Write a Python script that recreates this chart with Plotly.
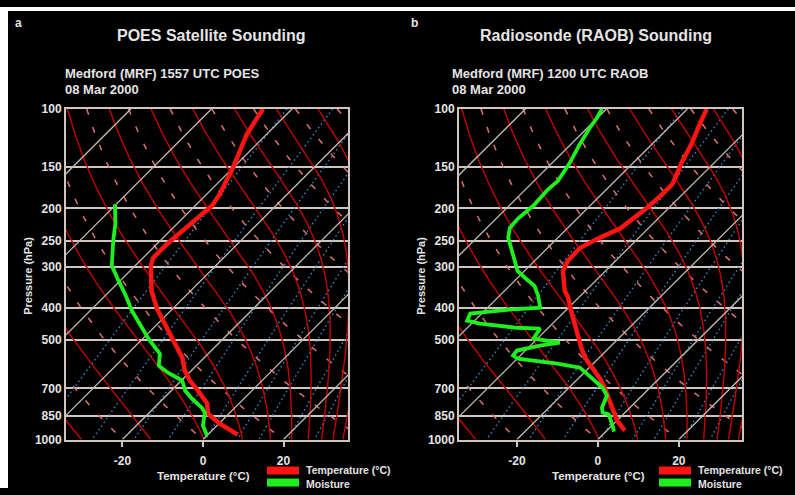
import numpy as np
import plotly.graph_objects as go

# ---------------- data ----------------
# Panel a: POES satellite sounding
poes_temp_p = [100, 119, 151, 181, 196, 229, 256, 282, 298, 355, 402, 437, 502, 565, 619, 663, 711, 778, 835, 895, 966]
poes_temp_t = [-67.2, -65.0, -60.0, -56.8, -55.8, -56.6, -57.5, -57.5, -56.1, -49.7, -43.9, -39.4, -32.0, -25.5, -21.6, -17.9, -13.4, -7.9, -5.2, 0.2, 7.4]
poes_moist_p = [194, 222, 250, 288, 298, 327, 360, 408, 452, 495, 527, 550, 598, 628, 663, 711, 752, 801, 829, 907, 972]
poes_moist_t = [-80.3, -75.4, -71.7, -67.0, -65.8, -61.0, -55.9, -49.6, -43.9, -38.6, -34.7, -32.0, -29.3, -25.3, -19.8, -16.6, -12.9, -8.2, -6.2, -3.5, 0.0]

# Panel b: radiosonde sounding
raob_temp_p = [100, 110, 128, 146, 159, 169, 181, 199, 215, 230, 245, 263, 288, 309, 355, 372, 416, 469, 538, 577, 610, 654, 697, 746, 806, 876, 939]
raob_temp_t = [-55.2, -53.4, -50.2, -48.0, -46.2, -45.0, -45.0, -45.4, -46.2, -46.9, -49.6, -52.0, -51.8, -50.5, -45.1, -42.6, -37.7, -32.2, -26.0, -22.3, -18.8, -14.6, -11.2, -7.9, -4.2, 0.0, 4.4]
raob_moist_p = [100, 106.5, 114, 128, 146, 157, 165, 177, 196, 215, 229, 245, 274, 309, 324, 343, 367, 399, 405, 416, 437, 446, 459, 462, 495, 509, 520, 538, 557, 569, 589, 606, 632, 677, 697, 736, 801, 829, 840, 914, 946]
raob_moist_t = [-81.1, -80.1, -79.4, -77.8, -75.6, -74.6, -74.1, -74.4, -74.0, -74.6, -74.3, -72.3, -67.1, -61.7, -58.2, -53.8, -50.5, -47.0, -54.7, -62.8, -61.8, -57.9, -47.8, -41.8, -41.0, -33.5, -37.6, -42.1, -41.8, -39.9, -28.9, -22.3, -19.1, -14.1, -11.7, -8.7, -6.9, -5.5, -3.5, 0.5, 2.0]

pressure_ticks = [100, 150, 200, 250, 300, 400, 500, 700, 850, 1000]
temp_ticks = [-20, 0, 20]
isotherm_values = list(range(-160, 60, 20))
dry_adiabat_theta = [273.15 + 20 * k for k in range(-5, 10)]
moist_adiabat_top_t = [-115.7 + 10.36 * k for k in range(-5, 8)]
mixing_ratios = [0.1, 0.4, 1, 2, 4, 7, 10, 16, 24]

titles = ["POES Satellite Sounding", "Radiosonde (RAOB) Sounding"]
subtitles = ["Medford (MRF) 1557 UTC POES", "Medford (MRF) 1200 UTC RAOB"]
date_text = "08 Mar 2000"
panel_letters = ["a", "b"]
legend_labels = ["Temperature (°C)", "Moisture"]

# ---------------- skew-T helpers ----------------
SKEW = 82.1
Rd, CP, LV, EPS = 287.04, 1005.7, 2.501e6, 0.622
P = np.logspace(2, 3, 241)


def skew(t, p):
    return np.asarray(t, float) + SKEW * np.log10(1000.0 / np.asarray(p, float))


def es(tk):
    return 6.112 * np.exp(17.67 * (tk - 273.15) / (tk - 29.65))


def dtdlnp(tk, p):
    e = es(tk)
    rs = EPS * e / (p - e)
    return (Rd * tk + LV * rs) / (CP + LV * LV * rs * EPS / (Rd * tk * tk))


def moist_adiabat(t_top_c):
    lnp = np.log(P)
    T = np.empty_like(P)
    T[0] = t_top_c + 273.15
    for i in range(len(P) - 1):
        h = lnp[i + 1] - lnp[i]
        p0, t0 = P[i], T[i]
        k1 = dtdlnp(t0, p0)
        pm = np.exp(lnp[i] + h / 2)
        k2 = dtdlnp(t0 + h / 2 * k1, pm)
        k3 = dtdlnp(t0 + h / 2 * k2, pm)
        k4 = dtdlnp(t0 + h * k3, P[i + 1])
        T[i + 1] = t0 + h / 6 * (k1 + 2 * k2 + 2 * k3 + k4)
    return T - 273.15


def mixing_line(r_gkg):
    r = r_gkg / 1000.0
    e = r * P / (EPS + r)
    x = np.log(e / 6.112)
    return 243.5 * x / (17.67 - x)


fig = go.Figure()

MOIST_C = "#c40000"
DRY_C = "#e07070"
MIX_C = "#3d86c6"
ISO_C = "#c2bab2"
GRID_C = "#cfc7bf"
TXT_C = "#e4e4e4"
RED = "#ff1414"
GREEN = "#1ef01e"
FONT = "Liberation Sans, Arial, sans-serif"

moist_curves = [moist_adiabat(t) for t in moist_adiabat_top_t]

for xa, ya, (tp, tt, mp, mt) in [
    ("x", "y", (poes_temp_p, poes_temp_t, poes_moist_p, poes_moist_t)),
    ("x2", "y2", (raob_temp_p, raob_temp_t, raob_moist_p, raob_moist_t)),
]:
    common = dict(xaxis=xa, yaxis=ya, mode="lines", showlegend=False, hoverinfo="skip")
    for th in dry_adiabat_theta:
        t = th * (P / 1000.0) ** 0.2857 - 273.15
        fig.add_trace(go.Scatter(x=skew(t, P), y=P, line=dict(color=DRY_C, width=1.5, dash="6px,13px"), **common))
    for r in mixing_ratios:
        fig.add_trace(go.Scatter(x=skew(mixing_line(r), P), y=P, line=dict(color=MIX_C, width=1.4, dash="1.5px,3px"), **common))
    for mc in moist_curves:
        fig.add_trace(go.Scatter(x=skew(mc, P), y=P, line=dict(color=MOIST_C, width=1.4), **common))
    for it in isotherm_values:
        pp = np.array([100.0, 1000.0])
        fig.add_trace(go.Scatter(x=skew([it, it], pp), y=pp, line=dict(color=ISO_C, width=1.3), **common))
    fig.add_trace(go.Scatter(x=skew(tt, tp), y=tp, line=dict(color=RED, width=4.5), **common))
    fig.add_trace(go.Scatter(x=skew(mt, mp), y=mp, line=dict(color=GREEN, width=3.8), **common))

W, H = 795, 495
# the photographed page shows the figure slightly squeezed vertically;
# positions below are given in target-picture pixels and mapped back here
SQ_A, SQ_B = 0.9728, 5.94


def fx(px):
    return px / W


def fy(py):
    yf = (py - SQ_B) / SQ_A
    return min(1.0, max(0.0, 1 - yf / H))


yax = dict(type="log", range=[3, 2], tickvals=pressure_ticks,
           ticktext=["<b>%d</b>" % v for v in pressure_ticks],
           tickfont=dict(family=FONT, size=12, color=TXT_C),
           showgrid=True, gridcolor=GRID_C, gridwidth=2,
           showline=True, mirror=True, linecolor=GRID_C, linewidth=2,
           ticks="", zeroline=False, domain=[fy(439), fy(108)])
xax = dict(tickvals=temp_ticks, ticktext=["<b>%d</b>" % v for v in temp_ticks],
           tickfont=dict(family=FONT, size=12, color=TXT_C),
           showgrid=False, zeroline=False, showline=True, mirror=True,
           linecolor=GRID_C, linewidth=2, ticks="outside", ticklen=5,
           tickwidth=2, tickcolor=GRID_C, ticklabelstandoff=4)

fig.update_layout(
    width=W, height=H, margin=dict(l=0, r=0, t=0, b=0),
    paper_bgcolor="black", plot_bgcolor="black",
    xaxis=dict(xax, domain=[fx(66), fx(348)], range=[-34.0, 36.0], anchor="y"),
    yaxis=dict(yax, anchor="x"),
    xaxis2=dict(xax, domain=[fx(459), fx(742)], range=[-34.3, 35.6], anchor="y2"),
    yaxis2=dict(yax, anchor="x2"),
)

ann = []


def text(x, y, s, size, xanchor="left", angle=0):
    ann.append(dict(x=fx(x), y=fy(y), xref="paper", yref="paper", text=s, showarrow=False,
                    xanchor=xanchor, yanchor="middle", textangle=angle, align="left",
                    borderpad=0,
                    font=dict(family=FONT, size=size, color=TXT_C)))


shapes = [
    dict(type="rect", xref="paper", yref="paper", x0=0, x1=fx(8), y0=0, y1=1, fillcolor="white", line=dict(width=0), layer="above"),
    dict(type="rect", xref="paper", yref="paper", x0=0, x1=1, y0=fy(10), y1=1, fillcolor="white", line=dict(width=0), layer="above"),
]

for i, off in enumerate([0, 395]):
    text(14 + off + (1 if i else 0), 22, "<b>%s</b>" % panel_letters[i], 12)
    text(211 + off - 10 * i, 34, "<b>%s</b>" % titles[i], 16, "center")
    text(64 + off - 8 * i, 73, "<b>%s</b>" % subtitles[i], 13)
    text(64 + off - 8 * i, 89, "<b>%s</b>" % date_text, 13)
    text(28 + off - 2 * i, 275, "<b>Pressure (hPa)</b>", 11, "center", -90)
    text(203 + off, 475, "<b>Temperature (°C)</b>", 11.5, "center")
    lx = 267 + off - 3 * i
    shapes.append(dict(type="rect", xref="paper", yref="paper", x0=fx(lx), x1=fx(lx + 32), y0=fy(474), y1=fy(466), fillcolor=RED, line=dict(width=0)))
    shapes.append(dict(type="rect", xref="paper", yref="paper", x0=fx(lx), x1=fx(lx + 32), y0=fy(486), y1=fy(478), fillcolor=GREEN, line=dict(width=0)))
    text(lx + 38, 476, "<b>%s</b><br><b>%s</b>" % tuple(legend_labels), 10.5)

fig.update_layout(annotations=ann, shapes=shapes)
fig.write_html("out.html")
